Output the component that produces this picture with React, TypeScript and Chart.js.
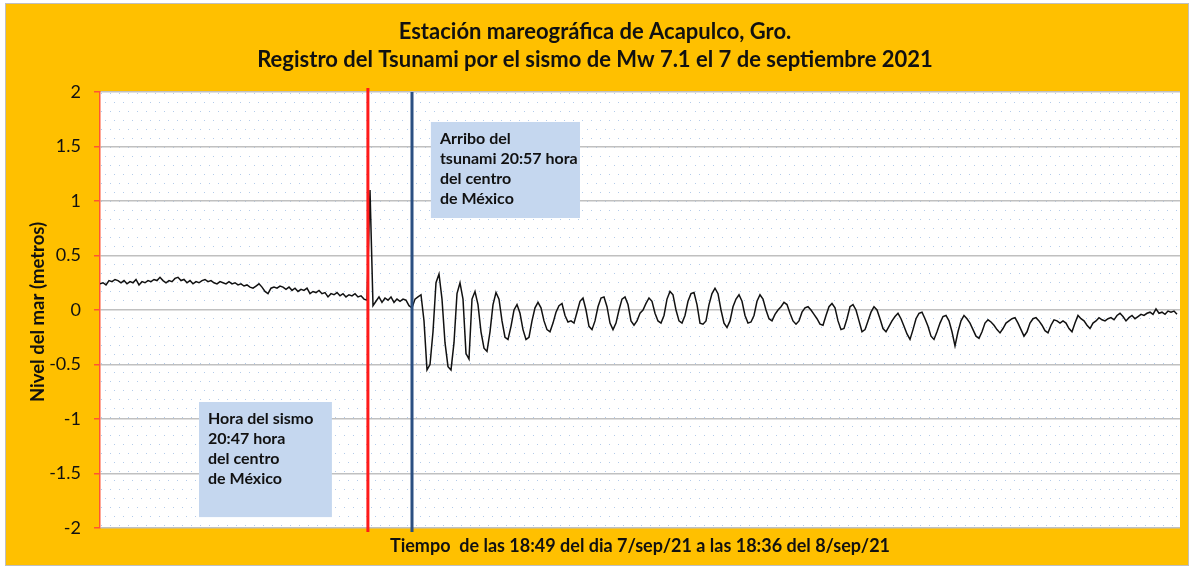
import React, { useEffect, useRef } from "react";
import { Chart, registerables } from "chart.js";

Chart.register(...registerables);

// Sea level (metres), one reading per step along the record
const seaLevel: number[] = [
  // before the earthquake
  0.24, 0.25, 0.23, 0.27, 0.26, 0.28, 0.27, 0.25, 0.27, 0.24,
  0.26, 0.25, 0.28, 0.23, 0.26, 0.25, 0.27, 0.26, 0.28, 0.27,
  0.3, 0.27, 0.25, 0.27, 0.26, 0.29, 0.3, 0.27, 0.28, 0.25,
  0.27, 0.24, 0.26, 0.25, 0.27, 0.28, 0.26, 0.27, 0.25, 0.24,
  0.26, 0.25, 0.24, 0.26, 0.24, 0.25, 0.23, 0.24, 0.22, 0.23,
  0.21, 0.2, 0.22, 0.24, 0.21, 0.17, 0.15, 0.2, 0.21, 0.2,
  0.22, 0.21, 0.19, 0.21, 0.18, 0.2, 0.17, 0.19, 0.18, 0.2,
  0.15, 0.17, 0.16, 0.18, 0.15, 0.16, 0.12, 0.15, 0.14, 0.16,
  0.13, 0.15, 0.12, 0.14, 0.13, 0.15, 0.12, 0.13, 0.1, 0.09,
  // seismic spike and waiting for the tsunami
  1.1, 0.04, 0.08, 0.12, 0.07, 0.11, 0.09, 0.12, 0.07, 0.1,
  0.08, 0.1, 0.09, 0.04, 0.02, 0.1, 0.12, 0.14,
  // tsunami arrival
  -0.1, -0.55, -0.5, -0.2, 0.25, 0.33, 0.1, -0.3, -0.52, -0.55,
  -0.3, 0.15, 0.25, 0.1, -0.4, -0.45, 0.1, 0.17, 0.05, -0.2,
  -0.35, -0.38, -0.2, 0.05, 0.16, 0.1, -0.1, -0.25, -0.27, -0.15,
  0.0, 0.05, -0.03, -0.18, -0.27, -0.25, -0.1, 0.02, 0.07, 0.02,
  -0.1, -0.18, -0.2, -0.12, -0.02, 0.04, 0.06, -0.05, -0.11, -0.1,
  -0.12, -0.02, 0.08, 0.11, 0.0, -0.15, -0.18, -0.1, 0.03, 0.11,
  0.12, 0.03, -0.12, -0.18, -0.12, 0.0, 0.1, 0.12, 0.05, -0.1,
  -0.14, -0.1, -0.03, 0.0, 0.06, 0.11, 0.08, -0.03, -0.1, -0.12,
  -0.05, 0.1, 0.17, 0.14, 0.0, -0.1, -0.12, -0.05, 0.08, 0.15,
  0.16, 0.05, -0.12, -0.13, -0.1, 0.05, 0.15, 0.2, 0.15, 0.0,
  -0.12, -0.16, -0.1, 0.03, 0.1, 0.14, 0.08, -0.05, -0.12, -0.11,
  -0.05, 0.08, 0.14, 0.1, 0.0, -0.08, -0.1, -0.04, 0.0, 0.03,
  0.07, 0.05, -0.03, -0.1, -0.13, -0.1, -0.02, 0.02, 0.03, 0.0,
  -0.04, -0.08, -0.13, -0.14, -0.05, 0.03, 0.06, 0.02, -0.1, -0.18,
  -0.17, -0.08, 0.03, 0.05, 0.0, -0.1, -0.2, -0.18, -0.1, -0.02,
  0.03, 0.0, -0.08, -0.17, -0.2, -0.15, -0.1, -0.06, -0.03, -0.08,
  -0.15, -0.22, -0.27, -0.18, -0.08, -0.03, -0.02, -0.08, -0.15, -0.24,
  -0.27, -0.2, -0.12, -0.06, -0.05, -0.1, -0.2, -0.33, -0.2, -0.1,
  -0.05, -0.08, -0.12, -0.18, -0.24, -0.26, -0.2, -0.12, -0.09, -0.11,
  -0.14, -0.18, -0.21, -0.17, -0.12, -0.1, -0.08, -0.07, -0.12, -0.18,
  -0.24, -0.2, -0.12, -0.08, -0.07, -0.1, -0.14, -0.19, -0.21, -0.14,
  -0.09, -0.1, -0.12, -0.1, -0.12, -0.17, -0.2, -0.12, -0.05, -0.08,
  -0.1, -0.14, -0.17, -0.12, -0.1, -0.07, -0.09, -0.1, -0.08, -0.07,
  -0.09, -0.05, -0.03, -0.06, -0.1, -0.07, -0.05, -0.08, -0.06, -0.04,
  -0.05, -0.03, -0.02, -0.04, 0.01, -0.03, -0.02, -0.04, -0.01, -0.02,
  -0.01, -0.04,
];

const sampleIndex: number[] = seaLevel.map((_, i) => i);

const yMin = -2;
const yMax = 2;
const yStep = 0.5;

const titleLines: string[] = [
  "Estación mareográfica de Acapulco, Gro.",
  "Registro del Tsunami por el sismo de Mw 7.1 el 7 de septiembre 2021",
];
const yAxisTitle = "Nivel del mar (metros)";
const xAxisTitle = "Tiempo  de las 18:49 del dia 7/sep/21 a las 18:36 del 8/sep/21";

// event markers (sample index)
const quakeIndex = 89.3;
const arrivalIndex = 104;

const arrivalNote: string[] = ["Arribo del", "tsunami 20:57 hora", "del centro", "de México"];
const quakeNote: string[] = ["Hora del sismo", "20:47 hora", "del centro", "de México"];

// note boxes in data units: [x0, x1, yTop, yBottom]
const arrivalBox = [110.3, 160, 1.725, 0.844];
const quakeBox = [33, 77.3, -0.844, -1.9];

const FONT = "Lato, 'Open Sans', sans-serif";

function makeDotPattern(ctx: CanvasRenderingContext2D) {
  const tile = document.createElement("canvas");
  tile.width = 9;
  tile.height = 18;
  const t = tile.getContext("2d")!;
  t.fillStyle = "#ffffff";
  t.fillRect(0, 0, 9, 18);
  t.fillStyle = "#b3cbea";
  t.fillRect(2, 3, 1, 1);
  t.fillRect(6, 12, 1, 1);
  return ctx.createPattern(tile, "repeat");
}

const framePlugin = {
  id: "frame",
  beforeDraw(chart: any) {
    const { ctx, width, height, chartArea } = chart;
    ctx.save();
    ctx.fillStyle = "#ffffff";
    ctx.fillRect(0, 0, width, height);
    ctx.fillStyle = "#FFC000";
    ctx.fillRect(6, 4, width - 8, height - 8);
    ctx.strokeStyle = "#BFBFBF";
    ctx.lineWidth = 1;
    ctx.strokeRect(5.5, 3.5, width - 7, height - 7);
    const pat = makeDotPattern(ctx);
    ctx.fillStyle = pat || "#ffffff";
    ctx.fillRect(chartArea.left, chartArea.top, chartArea.right - chartArea.left, chartArea.bottom - chartArea.top);
    ctx.restore();
  },
};

const annotationPlugin = {
  id: "annotations",
  afterDatasetsDraw(chart: any) {
    const { ctx, chartArea, scales } = chart;
    const xs = scales.x;
    const ys = scales.y;
    ctx.save();
    const drawBox = (box: number[], lines: string[]) => {
      const x0 = xs.getPixelForValue(box[0]);
      const x1 = xs.getPixelForValue(box[1]);
      const y0 = ys.getPixelForValue(box[2]);
      const y1 = ys.getPixelForValue(box[3]);
      ctx.fillStyle = "#C5D7EF";
      ctx.fillRect(x0, y0, x1 - x0, y1 - y0);
      ctx.fillStyle = "#111111";
      ctx.font = `bold 16px ${FONT}`;
      ctx.textAlign = "left";
      ctx.textBaseline = "middle";
      lines.forEach((ln, i) => ctx.fillText(ln, x0 + 9, y0 + 17 + i * 20));
    };
    drawBox(arrivalBox, arrivalNote);
    drawBox(quakeBox, quakeNote);
    const xq = xs.getPixelForValue(quakeIndex);
    ctx.strokeStyle = "#FF1A1A";
    ctx.lineWidth = 3;
    ctx.beginPath();
    ctx.moveTo(xq, chartArea.top - 4);
    ctx.lineTo(xq, chartArea.bottom + 4);
    ctx.stroke();
    const xa = xs.getPixelForValue(arrivalIndex);
    ctx.strokeStyle = "#2B4F81";
    ctx.beginPath();
    ctx.moveTo(xa, chartArea.top);
    ctx.lineTo(xa, chartArea.bottom + 4);
    ctx.stroke();
    ctx.restore();
  },
  afterDraw(chart: any) {
    const { ctx, chartArea, width } = chart;
    ctx.save();
    ctx.fillStyle = "#111111";
    ctx.textAlign = "center";
    ctx.textBaseline = "middle";
    ctx.font = `bold 22px ${FONT}`;
    ctx.fillText(titleLines[0], width / 2, 32);
    ctx.fillText(titleLines[1], width / 2, 60);
    ctx.font = `bold 18px ${FONT}`;
    ctx.fillText(xAxisTitle, (chartArea.left + chartArea.right) / 2, chartArea.bottom + 18);
    ctx.font = `bold 18.5px ${FONT}`;
    ctx.translate(38, (chartArea.top + chartArea.bottom) / 2 + 2);
    ctx.rotate(-Math.PI / 2);
    ctx.fillText(yAxisTitle, 0, 0);
    ctx.restore();
  },
};

export default function App() {
  const ref = useRef<HTMLCanvasElement>(null);
  useEffect(() => {
    document.body.style.margin = "0";
    const canvas = ref.current!;
    const chart = new Chart(canvas, {
      type: "line",
      data: {
        labels: sampleIndex,
        datasets: [
          {
            data: seaLevel,
            borderColor: "#111111",
            borderWidth: 1.5,
            pointRadius: 0,
            tension: 0,
            fill: false,
          },
        ],
      },
      options: {
        responsive: false,
        animation: false,
        devicePixelRatio: 1,
        layout: { padding: { left: 0, right: 10, top: 92, bottom: 41 } },
        plugins: {
          legend: { display: false },
          tooltip: { enabled: false },
          title: { display: false },
        },
        scales: {
          x: {
            type: "linear",
            min: 0,
            max: 360,
            display: false,
          },
          y: {
            min: yMin,
            max: yMax,
            afterFit(scale: any) {
              scale.width = 100;
            },
            ticks: {
              stepSize: yStep,
              color: "#111111",
              font: { family: FONT, size: 18 },
              padding: 13,
              callback: (v: any) => String(v),
            },
            grid: {
              color: "#C0C0C0",
              lineWidth: 1.5,
              tickColor: "#FF5533",
              tickLength: 6,
            },
            border: { color: "#FF5533", width: 1.5 },
          },
        },
      },
      plugins: [framePlugin, annotationPlugin],
    });
    return () => chart.destroy();
  }, []);
  return <canvas ref={ref} width={1190} height={569} style={{ display: "block" }} />;
}
